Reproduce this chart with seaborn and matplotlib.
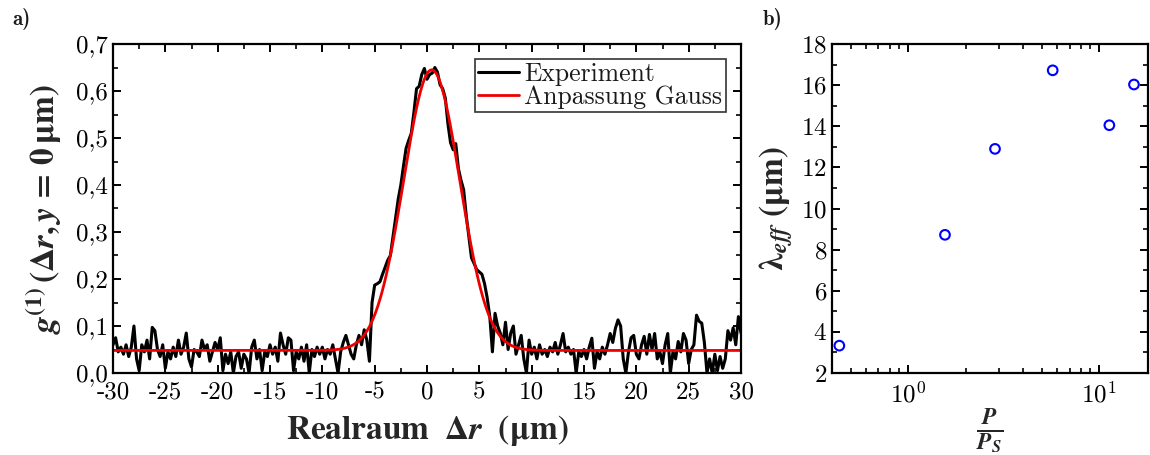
import numpy as np
import pandas as pd
import matplotlib
matplotlib.use("Agg")
import matplotlib.pyplot as plt
import seaborn as sns
from matplotlib.ticker import MultipleLocator, FixedLocator, FixedFormatter, LogLocator, NullFormatter

# ---------------- data: panel a ----------------
x_range = [-30.0, 30.0]
g1_experiment = [
    0.060, 0.075, 0.045, 0.055,
    0.040, 0.060, 0.035, 0.055,
    0.100, 0.030, 0.005, 0.060,
    0.045, 0.070, 0.030, 0.097,
    0.090, 0.050, 0.035, 0.060,
    0.010, 0.045, 0.030, 0.055,
    0.035, 0.070, 0.040, 0.055,
    0.085, 0.030, 0.013, 0.050,
    0.045, 0.035, 0.070, 0.050,
    0.060, 0.025, 0.045, 0.065,
    0.050, 0.075, 0.005, 0.040,
    0.020, 0.045, 0.000, 0.035,
    0.045, 0.010, 0.040, 0.030,
    0.000, 0.055, 0.070, 0.030,
    0.050, 0.005, 0.045, 0.035,
    0.060, 0.040, 0.055, 0.025,
    0.085, 0.060, 0.040, 0.075,
    0.070, 0.005, 0.045, 0.030,
    0.055, 0.025, 0.060, 0.000,
    0.050, 0.035, 0.055, 0.040,
    0.055, 0.030, 0.050, 0.040,
    0.060, 0.030, 0.000, 0.045,
    0.065, 0.080, 0.060, 0.040,
    0.030, 0.060, 0.080, 0.060,
    0.092, 0.070, 0.025, 0.150,
    0.187, 0.190, 0.194, 0.210,
    0.225, 0.240, 0.250, 0.290,
    0.330, 0.370, 0.400, 0.440,
    0.478, 0.495, 0.510, 0.555,
    0.605, 0.610, 0.635, 0.648,
    0.625, 0.635, 0.638, 0.650,
    0.640, 0.613, 0.605, 0.585,
    0.530, 0.490, 0.475, 0.488,
    0.435, 0.410, 0.390, 0.335,
    0.290, 0.245, 0.233, 0.220,
    0.215, 0.210, 0.190, 0.160,
    0.120, 0.045, 0.127, 0.100,
    0.085, 0.060, 0.108, 0.050,
    0.085, 0.100, 0.040, 0.060,
    0.080, 0.030, 0.000, 0.070,
    0.040, 0.055, 0.030, 0.060,
    0.040, 0.050, 0.035, 0.055,
    0.045, 0.065, 0.040, 0.060,
    0.084, 0.045, 0.055, 0.040,
    0.050, 0.000, 0.045, 0.035,
    0.050, 0.030, 0.055, 0.074,
    0.010, 0.045, 0.030, 0.055,
    0.040, 0.060, 0.084, 0.065,
    0.095, 0.113, 0.100, 0.030,
    0.000, 0.045, 0.075, 0.080,
    0.040, 0.030, 0.060, 0.078,
    0.040, 0.082, 0.050, 0.084,
    0.030, 0.045, 0.020, 0.060,
    0.084, 0.000, 0.045, 0.030,
    0.067, 0.045, 0.084, 0.070,
    0.020, 0.050, 0.060, 0.123,
    0.110, 0.106, 0.065, 0.000,
    0.030, 0.000, 0.040, 0.005,
    0.035, 0.010, 0.030, 0.090,
    0.070, 0.096, 0.060, 0.120,
    0.085,
]
# Gaussian fit parameters (offset, amplitude, centre, sigma)
fit_offset = 0.048
fit_amplitude = 0.597
fit_center = 0.45
fit_sigma = 2.68

x_ticks_a = [-30, -25, -20, -15, -10, -5, 0, 5, 10, 15, 20, 25, 30]
x_ticklabels_a = ["-30", "-25", "-20", "-15", "-10", "-5", "0", "5", "10", "15", "20", "25", "30"]
y_ticks_a = [0.0, 0.1, 0.2, 0.3, 0.4, 0.5, 0.6, 0.7]
y_ticklabels_a = ["0,0", "0,1", "0,2", "0,3", "0,4", "0,5", "0,6", "0,7"]

# ---------------- data: panel b ----------------
p_ratio = [0.437, 1.56, 2.85, 5.71, 11.3, 15.2]
lambda_eff = [3.33, 8.72, 12.9, 16.72, 14.05, 16.03]
y_ticks_b = [2, 4, 6, 8, 10, 12, 14, 16, 18]

# ---------------- frames ----------------
x_exp = np.linspace(x_range[0], x_range[1], len(g1_experiment))
df_exp = pd.DataFrame({"x": x_exp, "g": g1_experiment})
x_fit = np.linspace(x_range[0], x_range[1], 601)
g_fit = fit_offset + fit_amplitude * np.exp(-0.5 * ((x_fit - fit_center) / fit_sigma) ** 2)
df_fit = pd.DataFrame({"x": x_fit, "g": g_fit})
df_b = pd.DataFrame({"p": p_ratio, "lam": lambda_eff})

sns.set_theme(style="ticks")
plt.rcParams.update({
    "font.family": ["cmr10", "DejaVu Serif"],
    "mathtext.fontset": "stix",
    "axes.unicode_minus": False,
    "axes.formatter.use_mathtext": True,
    "axes.linewidth": 1.6,
    "axes.edgecolor": "black",
    "xtick.direction": "in",
    "ytick.direction": "in",
    "xtick.top": True,
    "ytick.right": True,
    "xtick.major.size": 6,
    "ytick.major.size": 6,
    "xtick.minor.size": 3.5,
    "ytick.minor.size": 3.5,
    "xtick.major.width": 1.4,
    "ytick.major.width": 1.4,
    "xtick.minor.width": 1.2,
    "ytick.minor.width": 1.2,
    "xtick.color": "black",
    "ytick.color": "black",
    "xtick.labelsize": 18,
    "ytick.labelsize": 18,
    "text.color": "#1a1a1a",
})

fig = plt.figure(figsize=(11.5, 4.55), dpi=100)
ax1 = fig.add_axes([113 / 1150, 82 / 455, 628 / 1150, 329 / 455])
ax2 = fig.add_axes([832 / 1150, 82 / 455, 316 / 1150, 329 / 455])

# panel a
sns.lineplot(data=df_exp, x="x", y="g", ax=ax1, color="black", lw=2.2, label="Experiment")
sns.lineplot(data=df_fit, x="x", y="g", ax=ax1, color="#ee0000", lw=2.0, label="Anpassung Gauss")
ax1.set_xlim(-30, 30)
ax1.set_ylim(0.0, 0.7)
ax1.xaxis.set_major_locator(FixedLocator(x_ticks_a))
ax1.xaxis.set_major_formatter(FixedFormatter(x_ticklabels_a))
ax1.yaxis.set_major_locator(FixedLocator(y_ticks_a))
ax1.yaxis.set_major_formatter(FixedFormatter(y_ticklabels_a))
ax1.xaxis.set_minor_locator(MultipleLocator(2.5))
ax1.yaxis.set_minor_locator(MultipleLocator(0.05))
ax1.tick_params(which="both", top=True, right=True)
ax1.tick_params(axis="x", pad=6)
ax1.set_xlabel(r"$\mathbf{Realraum}\ \ \mathbf{\Delta}\mathbfit{r}\ \ \mathbf{(\mu m)}$", fontsize=24, labelpad=7)
ax1.set_ylabel(r"$\mathbfit{g}^{\mathbf{(1)}}\,\mathbf{(\Delta}\mathbfit{r}\mathbf{,}\,\mathbfit{y}\mathbf{\,=\,0\,\mu m)}$",
               fontsize=24, labelpad=9)
leg = ax1.legend(loc="upper right", fontsize=18.5, frameon=True, fancybox=False, edgecolor="black",
                 handlelength=1.6, handletextpad=0.2, borderpad=0.12, labelspacing=-0.05,
                 borderaxespad=0.6)
leg.get_frame().set_linewidth(1.2)

# panel b
sns.scatterplot(data=df_b, x="p", y="lam", ax=ax2, marker="o", s=48,
                facecolor="none", edgecolor="#0000ff", linewidth=1.5)
ax2.set_xscale("log")
ax2.set_xlim(0.4, 18)
ax2.set_ylim(2, 18)
ax2.yaxis.set_major_locator(FixedLocator(y_ticks_b))
ax2.yaxis.set_minor_locator(MultipleLocator(1))
ax2.xaxis.set_major_locator(LogLocator(base=10))
ax2.xaxis.set_minor_locator(LogLocator(base=10, subs=np.arange(2, 10)))
ax2.xaxis.set_minor_formatter(NullFormatter())
ax2.tick_params(which="both", top=True, right=True)
ax2.tick_params(axis="x", pad=6)
ax2.set_xlabel(r"$\frac{\mathbfit{P}}{\mathbfit{P}_{\mathbfit{S}}}$", fontsize=24, labelpad=0)
ax2.set_ylabel(r"$\mathbf{\lambda}_{\mathbfit{eff}}\ \mathbf{(\mu m)}$", fontsize=24, labelpad=4)

fig.text(12 / 1150, 1 - 19 / 455, "a)", fontsize=15, fontweight="bold", family="cmb10", va="center")
fig.text(763 / 1150, 1 - 19 / 455, "b)", fontsize=15, fontweight="bold", family="cmb10", va="center")

fig.savefig("out.png", dpi=100)
